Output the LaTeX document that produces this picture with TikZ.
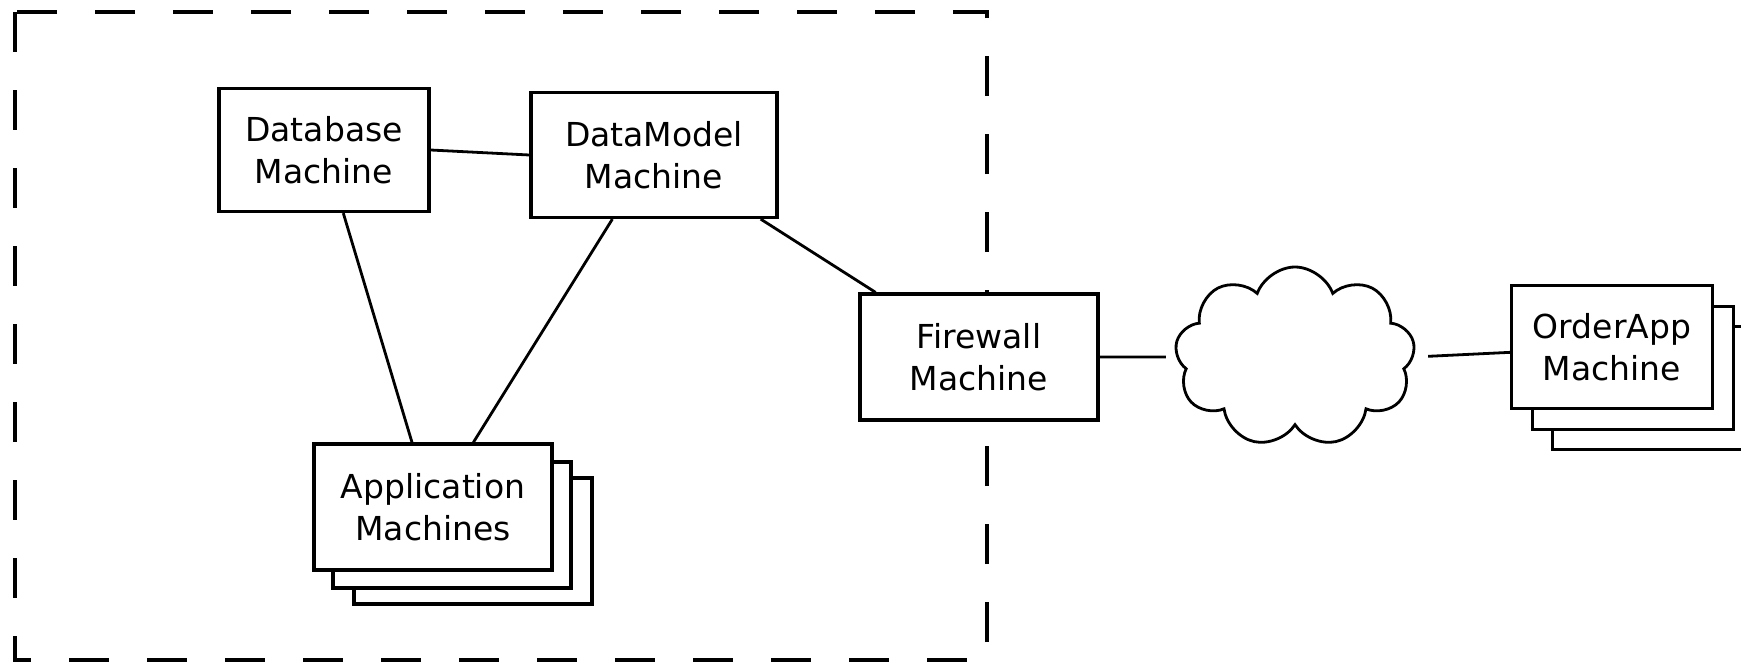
\documentclass[tikz,border=0pt]{standalone}
\usepackage{fontspec}
\setmainfont{DejaVu Sans}
\usetikzlibrary{shapes.symbols}
\begin{document}
\begin{tikzpicture}[x=0.5pt,y=-0.5pt]
\tikzstyle{every node}+=[inner sep=0pt, align=center, font=\fontsize{16.5}{21}\selectfont]
\tikzstyle{machine}=[draw=black, fill=white, line width=1.6pt]
\tikzstyle{link}=[black, line width=1.4pt]
\useasboundingbox (0,0) rectangle (1741,664);
\draw [black, line width=1.9pt, dash pattern=on 20pt off 19pt] (15,12) rectangle (987,660);
\node [machine, minimum width=105pt, minimum height=61.5pt] (db) at (324,150) {Database\\Machine};
\node [machine, minimum width=123pt, minimum height=62.5pt] (dm) at (654,155) {DataModel\\Machine};
\node [machine, minimum width=119pt, minimum height=63pt] (fw) at (979,357) {Firewall\\Machine};
\node [machine, minimum width=119pt, minimum height=63pt] (app3) at (473,541) {};
\node [machine, minimum width=119pt, minimum height=63pt] (app2) at (452,525) {};
\node [machine, minimum width=119pt, minimum height=63pt] (app) at (433,507) {Application\\Machines};
\node [machine, minimum width=100.5pt, minimum height=61.5pt] (oa3) at (1653,388) {};
\node [machine, minimum width=100.5pt, minimum height=61.5pt] (oa2) at (1633,368) {};
\node [machine, minimum width=100.5pt, minimum height=61.5pt] (oa) at (1612,347) {OrderApp\\Machine};
\node [cloud, draw=black, line width=1.4pt, cloud puffs=9, cloud puff arc=140, cloud ignores aspect, minimum width=120pt, minimum height=90pt] (net) at (1295,357) {};
\draw [link] (db.east) -- (dm.west);
\draw [link] (db.-73) -- (app.108);
\draw [link] (dm.-123) -- (app.58);
\draw [link] (dm.-31) -- (fw.148);
\draw [link, shorten >=5pt] (fw.east) -- (net.west);
\draw [link, shorten <=7pt] (net.east) -- (oa.183);
\end{tikzpicture}
\end{document}
